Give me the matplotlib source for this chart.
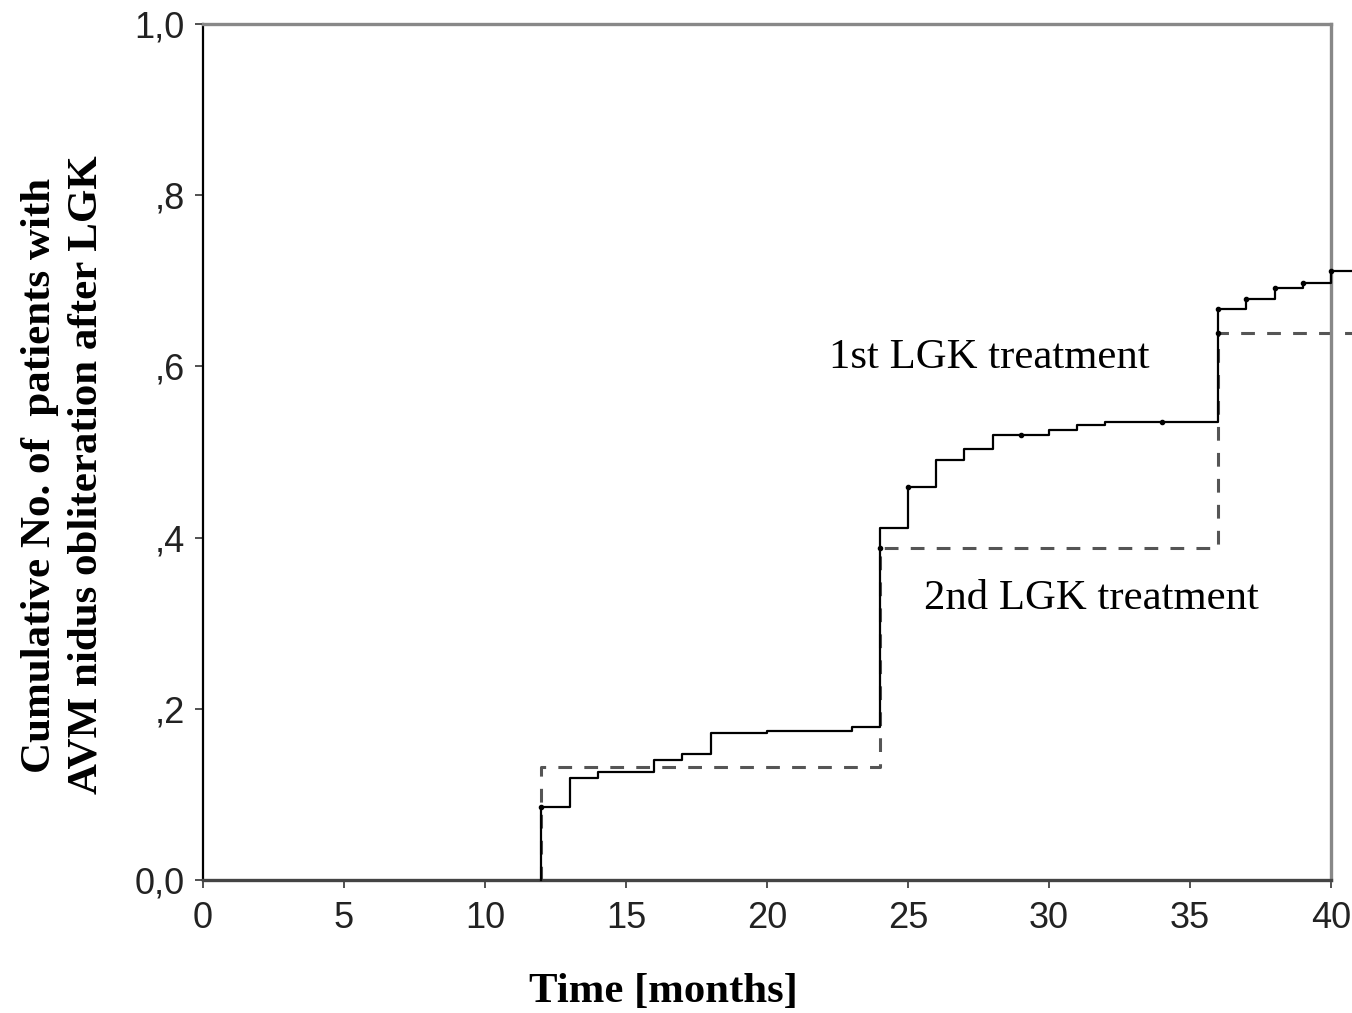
import matplotlib
matplotlib.use("Agg")
import matplotlib.pyplot as plt
import numpy as np

# 1st LGK treatment (solid): step start times and cumulative values
first_t = [12, 12, 13, 14, 16, 17, 18, 20, 23, 24, 25, 26, 27, 28, 30, 31, 32, 36, 37, 38, 39, 40]
first_y = [0.0, 0.085, 0.119, 0.126, 0.140, 0.147, 0.172, 0.174, 0.179, 0.411, 0.459, 0.491,
           0.504, 0.520, 0.526, 0.532, 0.535, 0.667, 0.679, 0.692, 0.698, 0.712]
first_end = 40.8
first_cens_t = [12, 25, 29, 34, 36, 37, 38, 39, 40]
first_cens_y = [0.085, 0.459, 0.520, 0.535, 0.667, 0.679, 0.692, 0.698, 0.712]

# 2nd LGK treatment (dashed)
second_t = [12, 24, 36]
second_y = [0.132, 0.388, 0.639]
second_end = 40.8
second_cens_t = [24, 36]
second_cens_y = [0.388, 0.639]

xticks = [0, 5, 10, 15, 20, 25, 30, 35, 40]
yticks = [0.0, 0.2, 0.4, 0.6, 0.8, 1.0]
ytick_labels = ["0,0", ",2", ",4", ",6", ",8", "1,0"]

fig = plt.figure(figsize=(13.52, 10.13), dpi=100)
ax = fig.add_axes([0.1501, 0.1313, 0.8344, 0.845])

# dashed curve
xs2 = [12] + second_t + [second_end]
ys2 = [0.0] + second_y + [second_y[-1]]
ax.step(xs2, ys2, where="post", color="#555555", lw=2.2, linestyle=(0, (4.5, 4)),
        clip_on=False, zorder=2)
ax.plot(second_cens_t, second_cens_y, "o", color="black", ms=3, zorder=4, clip_on=False)

# solid curve
xs1 = first_t + [first_end]
ys1 = first_y + [first_y[-1]]
ax.step(xs1, ys1, where="post", color="black", lw=1.6, clip_on=False, zorder=3)
ax.plot(first_cens_t, first_cens_y, "o", color="black", ms=3, zorder=4, clip_on=False)

ax.set_xlim(0, 40)
ax.set_ylim(0, 1.0)
ax.set_xticks(xticks)
ax.set_xticklabels([str(v) for v in xticks])
ax.set_yticks(yticks)
ax.set_yticklabels(ytick_labels)
ax.tick_params(axis="both", direction="out", length=6, width=1.2, labelsize=26,
               color="#333333", pad=7)
ax.tick_params(axis="x", pad=9)
for lab in ax.get_xticklabels() + ax.get_yticklabels():
    lab.set_fontfamily("Liberation Sans")
    lab.set_color("#222222")

ax.spines["left"].set_color("black")
ax.spines["left"].set_linewidth(1.6)
ax.spines["bottom"].set_color("#444444")
ax.spines["bottom"].set_linewidth(2.4)
ax.spines["top"].set_color("#888888")
ax.spines["top"].set_linewidth(2.4)
ax.spines["right"].set_color("#888888")
ax.spines["right"].set_linewidth(2.4)

serif = "Liberation Serif"
ax.text(27.9, 0.610, "1st LGK treatment", fontsize=30.8, family=serif, ha="center", va="center")
ax.text(31.5, 0.328, "2nd LGK treatment", fontsize=30.8, family=serif, ha="center", va="center")

fig.text(0.491, 0.021, "Time [months]", fontsize=30.8, family=serif, fontweight="bold",
         ha="center", va="center")
fig.text(0.047, 0.531, "Cumulative No. of  patients with\nAVM nidus obliteration after LGK",
         fontsize=31, family=serif, fontweight="bold", rotation=90, ha="center", va="center",
         linespacing=1.3, multialignment="center")

fig.savefig("out.png", dpi=100)
